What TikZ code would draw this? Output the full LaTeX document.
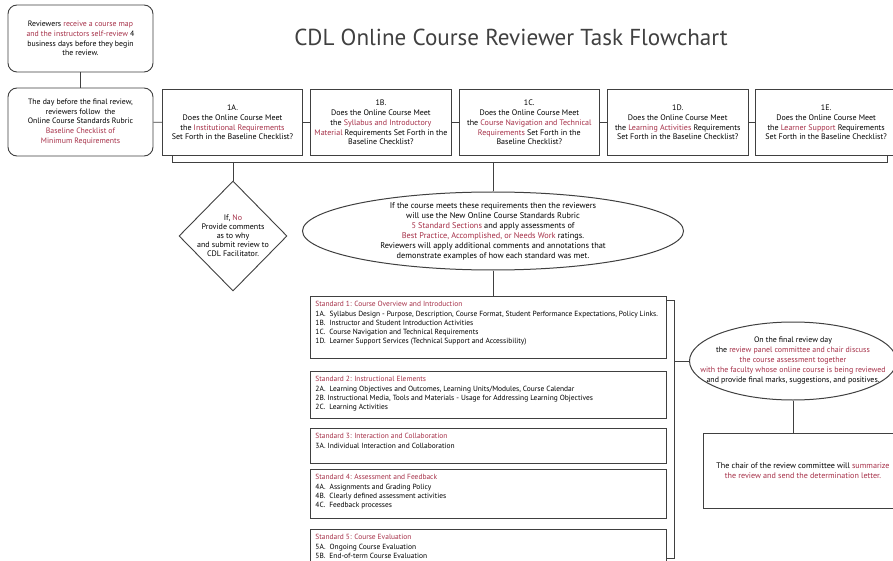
\documentclass[tikz,border=0pt]{standalone}
\usepackage{fontspec}
\setmainfont{PT Sans}
\usetikzlibrary{shapes.geometric, positioning}

\definecolor{cdlred}{RGB}{166,48,72}
\definecolor{cdlgray}{RGB}{64,64,64}
\newcommand{\hl}[1]{\textcolor{cdlred}{#1}}
\newcommand{\stdtxt}[2]{\parbox[c][#1][t]{346pt}{\raggedright #2}}

\begin{document}
\begin{tikzpicture}[x=1pt,y=-1pt,
  rb/.style={rectangle,draw=cdlgray,line width=0.9pt,rounded corners=9pt,minimum width=145pt,align=center,font=\fontsize{7.8}{9.8}\selectfont},
  q/.style={rectangle,draw=cdlgray,line width=0.9pt,minimum width=140.5pt,minimum height=66pt,inner sep=0pt,align=center,font=\fontsize{8}{9.8}\selectfont},
  std/.style={rectangle,draw=cdlgray,line width=0.9pt,anchor=north west,inner sep=5pt,font=\fontsize{7.45}{9.3}\selectfont},
  ov/.style={ellipse,draw=cdlgray,line width=1pt,inner xsep=-40pt,inner ysep=-15pt,align=center,font=\fontsize{8.3}{10}\selectfont},
  dec/.style={diamond,draw=cdlgray,line width=0.9pt,inner sep=-2pt,minimum width=108pt,minimum height=110pt,align=center,font=\fontsize{8}{8.9}\selectfont},
  ln/.style={draw=cdlgray,line width=0.8pt}
]
  \path[use as bounding box,fill=white] (0,0) rectangle (893,561);

  \node[font=\fontsize{23.1}{26}\selectfont,text=cdlgray] (title) at (511,37) {CDL Online Course Reviewer Task Flowchart};

  \node[rb,minimum height=67pt](rev) at (80.5,38.5){Reviewers \hl{receive a course map}\\\hl{and the instructors self-review} 4\\business days before they begin\\the review.};
  \node[rb,minimum height=68pt](day) at (80.5,122){The day before the final review,\\reviewers follow\ \ the\\Online Course Standards Rubric\\\hl{Baseline Checklist of}\\\hl{Minimum Requirements}};

  \node[q](q1) at (232.5,122.5){1A.\\Does the Online Course Meet\\the \hl{Institutional Requirements}\\Set Forth in the Baseline Checklist?};
  \node[q,right=7pt of q1](q2){1B.\\Does the Online Course Meet\\the \hl{Syllabus and Introductory}\\\hl{Material} Requirements Set Forth in the\\Baseline Checklist?};
  \node[q,right=7pt of q2](q3){1C.\\Does the Online Course Meet\\the \hl{Course Navigation and Technical}\\\hl{Requirements} Set Forth in the\\Baseline Checklist?};
  \node[q,right=7pt of q3](q4){1D.\\Does the Online Course Meet\\the \hl{Learning Activities} Requirements\\Set Forth in the Baseline Checklist?};
  \node[q,right=7pt of q4](q5){1E.\\Does the Online Course Meet\\the \hl{Learner Support} Requirements\\Set Forth in the Baseline Checklist?};

  \node[dec](no) at (233,236){If, \hl{No}\\Provide comments\\as to why\\and submit review to\\CDL Facilitator.};
  \node[ov,minimum width=381pt,minimum height=78pt](meet) at (493,231){If the course meets these requirements then the reviewers\\will use the New Online Course Standards Rubric\\\hl{5 Standard Sections} and apply assessments of\\\hl{Best Practice, Accomplished, or Needs Work} ratings.\\Reviewers will apply additional comments and annotations that\\demonstrate examples of how each standard was met.};

  \node[std](s1) at (310,296){\stdtxt{52pt}{\hl{Standard 1: Course Overview and Introduction}\\1A.\ \ Syllabus Design - Purpose, Description, Course Format, Student Performance Expectations, Policy Links.\\1B.\ \ Instructor and Student Introduction Activities\\1C.\ \ Course Navigation and Technical Requirements\\1D.\ \ Learner Support Services (Technical Support and Accessibility)}};
  \node[std](s2) at (310,371){\stdtxt{37pt}{\hl{Standard 2: Instructional Elements}\\2A.\ \ Learning Objectives and Outcomes, Learning Units/Modules, Course Calendar\\2B. Instructional Media, Tools and Materials - Usage for Addressing Learning Objectives\\2C.\ \ Learning Activities}};
  \node[std](s3) at (310,428){\stdtxt{25pt}{\hl{Standard 3: Interaction and Collaboration}\\3A. Individual Interaction and Collaboration}};
  \node[std](s4) at (310,469){\stdtxt{39pt}{\hl{Standard 4: Assessment and Feedback}\\4A.\ \ Assignments and Grading Policy\\4B.\ \ Clearly defined assessment activities\\4C.\ \ Feedback processes}};
  \node[std](s5) at (310,529){\stdtxt{30pt}{\hl{Standard 5: Course Evaluation}\\5A.\ \ Ongoing Course Evaluation\\5B.\ \ End-of-term Course Evaluation}};

  \node[ov,inner xsep=-60pt,minimum width=207pt,minimum height=78pt,font=\fontsize{7.9}{10}\selectfont](final) at (793,361){On the final review day\\the \hl{review panel committee and chair discuss}\\\hl{the course assessment together}\\\hl{with the faculty whose online course is being reviewed}\\and provide final marks, suggestions, and positives.};
  \node[q,minimum width=200pt,minimum height=75pt,font=\fontsize{8.1}{10}\selectfont](chair) at (803,470.5){The chair of the review committee will \hl{summarize}\\\hl{the review and send the determination letter.}};

  \draw[ln](rev)--(day);
  \foreach \a/\b in {day/q1,q1/q2,q2/q3,q3/q4,q4/q5}{\draw[ln](\a)--(\b);}
  \coordinate (bl) at (172,162);
  \coordinate (br) at (887,162);
  \draw[ln](q1.south -| bl)--(bl)--(br)--(q5.south -| br);
  \draw[ln](bl -| no.north)--(no.north);
  \draw[ln](bl -| meet.north)--(meet.north);
  \draw[ln](meet.south)--(meet.south |- s1.north);
  \coordinate (sbt) at (674,300);
  \coordinate (sbb) at (674,558);
  \draw[ln](s1.east |- sbt)--(sbt)--(sbb)--(s1.east |- sbb);
  \draw[ln](sbt |- final.west)--(final.west);
  \draw[ln](final.south)--(final.south |- chair.north);
\end{tikzpicture}
\end{document}
